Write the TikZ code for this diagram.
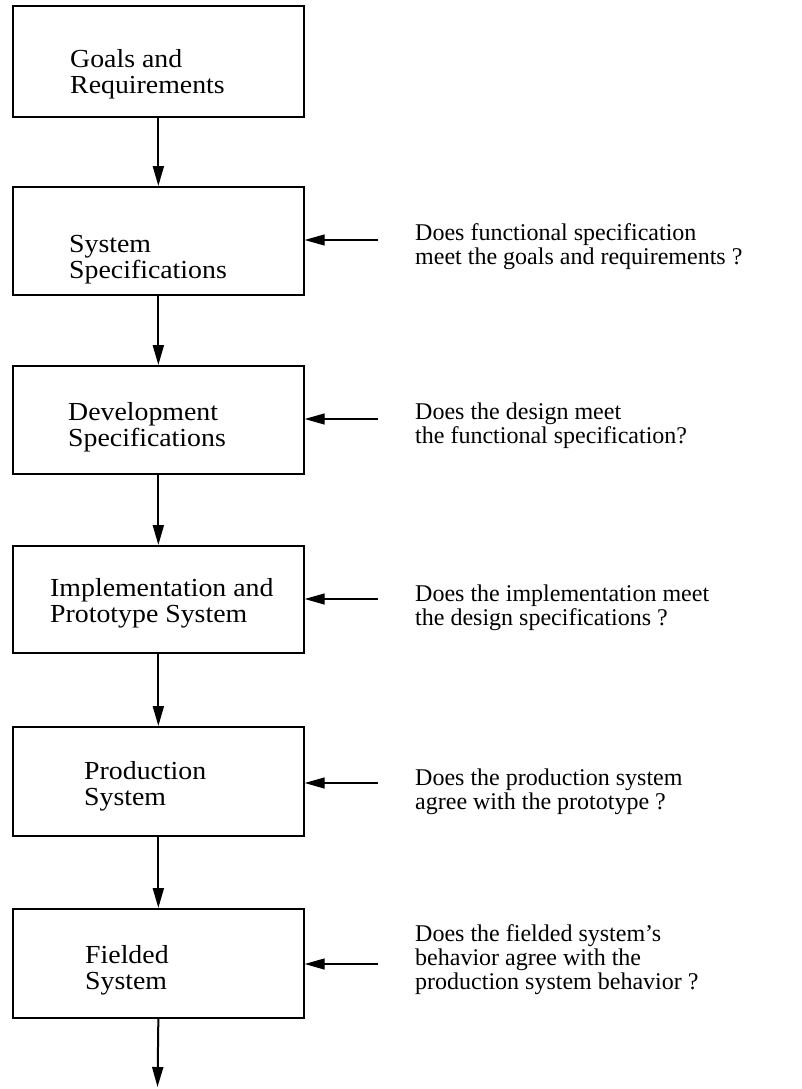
\documentclass[tikz,border=0pt]{standalone}
\usepackage{fontspec}
\setmainfont{Liberation Serif}
\newfontfamily\stagefont[FakeStretch=1.07]{Liberation Serif}
\usetikzlibrary{arrows.meta}
\begin{document}
\begin{tikzpicture}[x=1pt,y=-1pt,
  stage/.style={draw, line width=1.7pt, minimum width=291pt, inner sep=0pt, anchor=north west},
  stagetext/.style={anchor=base west, align=left, inner sep=0pt, font=\stagefont\fontsize{26}{26}\selectfont},
  question/.style={anchor=base west, align=left, inner sep=0pt, font=\fontsize{24}{24}\selectfont},
  flow/.style={-{Triangle[length=20pt,width=11pt]}, line width=2pt},
  check/.style={-{Triangle[length=20pt,width=11pt]}, line width=1.4pt}]
\useasboundingbox (0,0) rectangle (802,1089);

% life-cycle stages
\node[stage, minimum height=111pt] (goals)   at (12,5)   {};
\node[stage, minimum height=108pt] (sysspec) at (12,186) {};
\node[stage, minimum height=108pt] (devspec) at (12,365) {};
\node[stage, minimum height=107pt] (impl)    at (12,545) {};
\node[stage, minimum height=109pt] (prod)    at (12,726) {};
\node[stage, minimum height=109pt] (field)   at (12,908) {};

% stage captions (anchored on the baseline of their last line)
\node[stagetext] (goalsT)   at (70,94)  {Goals and\\Requirements};
\node[stagetext] (sysspecT) at (69,278) {System\\Specifications};
\node[stagetext] (devspecT) at (68,446) {Development\\Specifications};
\node[stagetext] (implT)    at (50,622) {Implementation and\\Prototype System};
\node[stagetext] (prodT)    at (84,805) {Production\\System};
\node[stagetext] (fieldT)   at (85,989) {Fielded\\System};

% flow between stages
\coordinate (out) at (157.5,1087);
\draw[flow] (goals.south) -- (sysspec.north);
\draw[flow] (sysspec.south) -- (devspec.north);
\draw[flow] (devspec.south) -- (impl.north);
\draw[flow] (impl.south) -- (prod.north);
\draw[flow] (prod.south) -- (field.north);
\draw[flow] (field.south) -- (out);

% verification questions
\coordinate (q1) at (378,240);
\coordinate (q2) at (378,419);
\coordinate (q3) at (378,599);
\coordinate (q4) at (378,783);
\coordinate (q5) at (378,964);
\draw[check] (q1) -- (sysspec.east |- q1);
\draw[check] (q2) -- (devspec.east |- q2);
\draw[check] (q3) -- (impl.east |- q3);
\draw[check] (q4) -- (prod.east |- q4);
\draw[check] (q5) -- (field.east |- q5);

\node[question] (q1T) at (415,264) {Does functional specification\\meet the goals and requirements ?};
\node[question] (q2T) at (415,443) {Does the design meet\\the functional specification?};
\node[question] (q3T) at (415,625) {Does the implementation meet\\the design specifications ?};
\node[question] (q4T) at (415,809) {Does the production system\\agree with the prototype ?};
\node[question] (q5T) at (415,989) {Does the fielded system's\\behavior agree with the\\production system behavior ?};
\end{tikzpicture}
\end{document}
